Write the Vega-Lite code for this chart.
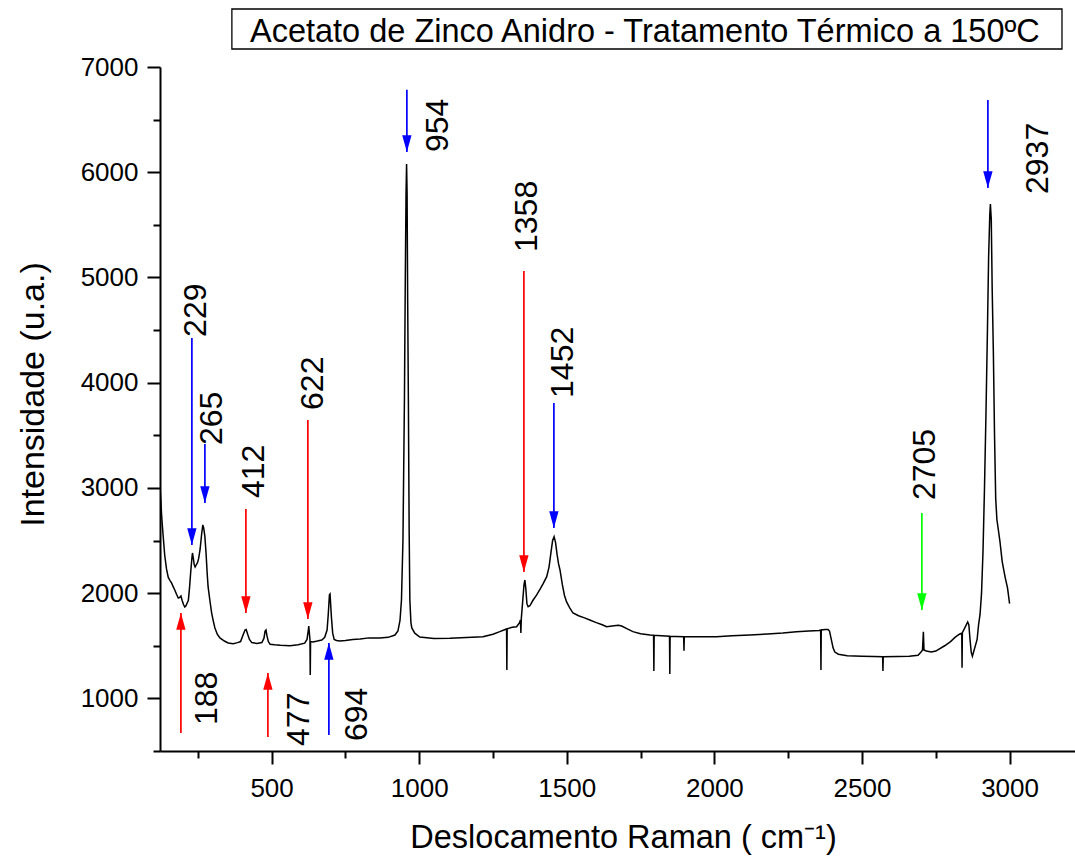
{
  "$schema": "https://vega.github.io/schema/vega-lite/v6.json",
  "width": 915,
  "height": 684,
  "autosize": {"type": "none"},
  "padding": {"left": 160, "top": 67, "right": 0, "bottom": 105},
  "background": "white",
  "config": {"view": {"stroke": null}},
  "resolve": {"axis": {"x": "independent", "y": "independent"}},
  "datasets": {
    "espectro": [
      {"desloc":122,"intens":3009},{"desloc":125,"intens":2880},{"desloc":127,"intens":2762},{"desloc":130,"intens":2640},{"desloc":133,"intens":2534},{"desloc":138,"intens":2360},{"desloc":144,"intens":2230},{"desloc":150,"intens":2150},{"desloc":156,"intens":2120},{"desloc":161,"intens":2097},{"desloc":167,"intens":2060},{"desloc":172,"intens":2030},{"desloc":178,"intens":1990},{"desloc":184,"intens":1954},{"desloc":189,"intens":1960},{"desloc":193,"intens":1973},{"desloc":197,"intens":1930},{"desloc":202,"intens":1890},{"desloc":206,"intens":1868},{"desloc":210,"intens":1880},{"desloc":214,"intens":1906},{"desloc":218,"intens":1930},{"desloc":222,"intens":2050},{"desloc":226,"intens":2200},{"desloc":230,"intens":2330},{"desloc":232,"intens":2382},{"desloc":235,"intens":2330},{"desloc":238,"intens":2270},{"desloc":241,"intens":2249},{"desloc":245,"intens":2270},{"desloc":249,"intens":2290},{"desloc":253,"intens":2330},{"desloc":258,"intens":2420},{"desloc":263,"intens":2560},{"desloc":267,"intens":2648},{"desloc":270,"intens":2620},{"desloc":274,"intens":2540},{"desloc":278,"intens":2380},{"desloc":282,"intens":2180},{"desloc":285,"intens":2059},{"desloc":291,"intens":1930},{"desloc":297,"intens":1811},{"desloc":303,"intens":1730},{"desloc":308,"intens":1669},{"desloc":316,"intens":1610},{"desloc":325,"intens":1574},{"desloc":340,"intens":1545},{"desloc":353,"intens":1526},{"desloc":370,"intens":1520},{"desloc":385,"intens":1530},{"desloc":395,"intens":1540},{"desloc":403,"intens":1600},{"desloc":410,"intens":1650},{"desloc":414,"intens":1655},{"desloc":419,"intens":1610},{"desloc":425,"intens":1560},{"desloc":433,"intens":1530},{"desloc":450,"intens":1522},{"desloc":467,"intens":1530},{"desloc":474,"intens":1570},{"desloc":478,"intens":1640},{"desloc":481,"intens":1650},{"desloc":484,"intens":1600},{"desloc":489,"intens":1540},{"desloc":495,"intens":1515},{"desloc":510,"intens":1510},{"desloc":530,"intens":1505},{"desloc":562,"intens":1500},{"desloc":590,"intens":1510},{"desloc":612,"intens":1525},{"desloc":620,"intens":1560},{"desloc":624,"intens":1640},{"desloc":626,"intens":1688},{"desloc":628,"intens":1620},{"desloc":630,"intens":1560},{"desloc":631,"intens":1222},{"desloc":632,"intens":1540},{"desloc":640,"intens":1536},{"desloc":655,"intens":1545},{"desloc":670,"intens":1555},{"desloc":680,"intens":1580},{"desloc":688,"intens":1650},{"desloc":692,"intens":1800},{"desloc":696,"intens":1985},{"desloc":698,"intens":1992},{"desloc":700,"intens":1900},{"desloc":703,"intens":1760},{"desloc":707,"intens":1620},{"desloc":712,"intens":1560},{"desloc":720,"intens":1550},{"desloc":731,"intens":1545},{"desloc":750,"intens":1550},{"desloc":775,"intens":1560},{"desloc":800,"intens":1564},{"desloc":830,"intens":1575},{"desloc":867,"intens":1574},{"desloc":895,"intens":1580},{"desloc":918,"intens":1602},{"desloc":928,"intens":1640},{"desloc":935,"intens":1740},{"desloc":940,"intens":1935},{"desloc":945,"intens":2500},{"desloc":950,"intens":3836},{"desloc":953,"intens":5000},{"desloc":955.5,"intens":5800},{"desloc":957.3,"intens":6078},{"desloc":959,"intens":5800},{"desloc":961,"intens":4786},{"desloc":963.4,"intens":3836},{"desloc":966,"intens":2600},{"desloc":968.4,"intens":1935},{"desloc":972,"intens":1720},{"desloc":975,"intens":1669},{"desloc":985,"intens":1620},{"desloc":1002,"intens":1583},{"desloc":1050,"intens":1570},{"desloc":1104,"intens":1571},{"desloc":1160,"intens":1578},{"desloc":1216,"intens":1586},{"desloc":1250,"intens":1610},{"desloc":1273,"intens":1634},{"desloc":1296,"intens":1660},{"desloc":1297,"intens":1270},{"desloc":1298,"intens":1662},{"desloc":1315,"intens":1675},{"desloc":1330,"intens":1681},{"desloc":1340,"intens":1720},{"desloc":1343,"intens":1745},{"desloc":1344.5,"intens":1621},{"desloc":1346,"intens":1760},{"desloc":1350,"intens":1900},{"desloc":1355,"intens":2080},{"desloc":1358,"intens":2125},{"desloc":1361,"intens":2050},{"desloc":1365,"intens":1900},{"desloc":1369,"intens":1871},{"desloc":1375,"intens":1880},{"desloc":1385,"intens":1930},{"desloc":1398,"intens":1983},{"desloc":1410,"intens":2040},{"desloc":1420,"intens":2090},{"desloc":1432,"intens":2157},{"desloc":1440,"intens":2250},{"desloc":1447,"intens":2400},{"desloc":1452,"intens":2500},{"desloc":1457,"intens":2537},{"desloc":1462,"intens":2480},{"desloc":1467,"intens":2370},{"desloc":1472,"intens":2280},{"desloc":1477,"intens":2220},{"desloc":1485,"intens":2080},{"desloc":1492,"intens":1980},{"desloc":1499,"intens":1919},{"desloc":1510,"intens":1860},{"desloc":1521,"intens":1811},{"desloc":1540,"intens":1785},{"desloc":1560,"intens":1765},{"desloc":1578,"intens":1745},{"desloc":1600,"intens":1720},{"desloc":1620,"intens":1700},{"desloc":1635,"intens":1681},{"desloc":1660,"intens":1690},{"desloc":1675,"intens":1695},{"desloc":1686,"intens":1688},{"desloc":1705,"intens":1660},{"desloc":1724,"intens":1634},{"desloc":1750,"intens":1615},{"desloc":1782,"intens":1602},{"desloc":1794,"intens":1600},{"desloc":1795,"intens":1260},{"desloc":1796,"intens":1600},{"desloc":1820,"intens":1595},{"desloc":1848,"intens":1590},{"desloc":1849,"intens":1232},{"desloc":1850,"intens":1590},{"desloc":1870,"intens":1588},{"desloc":1896,"intens":1586},{"desloc":1897,"intens":1453},{"desloc":1898,"intens":1586},{"desloc":1950,"intens":1586},{"desloc":2007,"intens":1586},{"desloc":2060,"intens":1595},{"desloc":2120,"intens":1602},{"desloc":2180,"intens":1612},{"desloc":2232,"intens":1621},{"desloc":2278,"intens":1634},{"desloc":2320,"intens":1640},{"desloc":2355,"intens":1645},{"desloc":2360,"intens":1650},{"desloc":2361,"intens":1270},{"desloc":2362,"intens":1650},{"desloc":2375,"intens":1655},{"desloc":2385,"intens":1655},{"desloc":2390,"intens":1640},{"desloc":2396,"intens":1560},{"desloc":2402,"intens":1480},{"desloc":2408,"intens":1440},{"desloc":2420,"intens":1420},{"desloc":2450,"intens":1405},{"desloc":2500,"intens":1400},{"desloc":2540,"intens":1398},{"desloc":2570,"intens":1395},{"desloc":2571,"intens":1260},{"desloc":2572,"intens":1395},{"desloc":2620,"intens":1398},{"desloc":2660,"intens":1400},{"desloc":2690,"intens":1410},{"desloc":2700,"intens":1440},{"desloc":2705,"intens":1460},{"desloc":2708,"intens":1634},{"desloc":2710,"intens":1460},{"desloc":2718,"intens":1450},{"desloc":2735,"intens":1440},{"desloc":2750,"intens":1450},{"desloc":2780,"intens":1500},{"desloc":2800,"intens":1540},{"desloc":2815,"intens":1580},{"desloc":2830,"intens":1610},{"desloc":2838,"intens":1620},{"desloc":2839,"intens":1290},{"desloc":2840,"intens":1625},{"desloc":2850,"intens":1680},{"desloc":2858,"intens":1726},{"desloc":2862,"intens":1700},{"desloc":2866,"intens":1560},{"desloc":2870,"intens":1440},{"desloc":2874,"intens":1400},{"desloc":2880,"intens":1460},{"desloc":2890,"intens":1560},{"desloc":2895,"intens":1700},{"desloc":2900,"intens":1800},{"desloc":2905,"intens":2000},{"desloc":2910,"intens":2400},{"desloc":2915,"intens":3000},{"desloc":2920,"intens":3700},{"desloc":2925,"intens":4500},{"desloc":2929,"intens":5200},{"desloc":2933,"intens":5600},{"desloc":2935,"intens":5698},{"desloc":2938,"intens":5550},{"desloc":2941,"intens":4900},{"desloc":2945,"intens":4300},{"desloc":2949,"intens":3500},{"desloc":2953,"intens":2900},{"desloc":2957,"intens":2700},{"desloc":2962,"intens":2600},{"desloc":2967,"intens":2500},{"desloc":2975,"intens":2300},{"desloc":2985,"intens":2150},{"desloc":2993,"intens":2050},{"desloc":3000,"intens":1900}
    ],
    "picos": [
      {"rotulo":"229","grupo":"azul","sentido":"baixo","x":230,"cauda":4425,"ponta":2458,"lx":243.6,"ly":4435},
      {"rotulo":"265","grupo":"azul","sentido":"baixo","x":274.1,"cauda":3417,"ponta":2857,"lx":297.7,"ly":3408},
      {"rotulo":"412","grupo":"vermelho","sentido":"baixo","x":413,"cauda":2800,"ponta":1811,"lx":440,"ly":2904},
      {"rotulo":"622","grupo":"vermelho","sentido":"baixo","x":622.9,"cauda":3645,"ponta":1754,"lx":639.9,"ly":3741},
      {"rotulo":"954","grupo":"azul","sentido":"baixo","x":958.3,"cauda":6783,"ponta":6192,"lx":1063.4,"ly":6192},
      {"rotulo":"1358","grupo":"vermelho","sentido":"baixo","x":1354.7,"cauda":5061,"ponta":2201,"lx":1364.8,"ly":5242},
      {"rotulo":"1452","grupo":"azul","sentido":"baixo","x":1456.3,"cauda":3807,"ponta":2619,"lx":1486.8,"ly":3855},
      {"rotulo":"2705","grupo":"verde","sentido":"baixo","x":2702.9,"cauda":2762,"ponta":1840,"lx":2713.1,"ly":2885},
      {"rotulo":"2937","grupo":"azul","sentido":"baixo","x":2926.5,"cauda":6686,"ponta":5850,"lx":3095.9,"ly":5793},
      {"rotulo":"188","grupo":"vermelho","sentido":"cima","x":192.8,"cauda":671,"ponta":1811,"lx":280.8,"ly":747},
      {"rotulo":"477","grupo":"vermelho","sentido":"cima","x":487.5,"cauda":633,"ponta":1241,"lx":592.5,"ly":548},
      {"rotulo":"694","grupo":"azul","sentido":"cima","x":694.1,"cauda":652,"ponta":1526,"lx":789,"ly":595}
    ],
    "titulo": [
      {"texto":"Acetato de Zinco Anidro - Tratamento Térmico a 150ºC","x1":365.5,"x2":3177.5,"y1":7171,"y2":7551,"xc":1764.6,"yb":7240}
    ]
  },
  "layer": [
    {
      "data": {"name": "espectro"},
      "mark": {"type": "line", "color": "black", "strokeWidth": 1.5, "clip": true},
      "encoding": {
        "x": {
          "field": "desloc", "type": "quantitative",
          "scale": {"domain": [122, 3221.6], "nice": false, "zero": false},
          "axis": {
            "orient": "bottom",
            "values": [500,1000,1500,2000,2500,3000],
            "format": "d",
            "tickSize": 13,
            "title": "Deslocamento Raman ( cm⁻¹)",
            "grid": false,
            "domainColor": "black", "domainWidth": 2,
            "tickColor": "black", "tickWidth": 2,
            "labelFont": "Liberation Sans", "labelFontSize": 26, "labelColor": "black",
            "labelPadding": 11, "labelFlush": false, "labelOverlap": false,
            "titleFont": "Liberation Sans", "titleFontSize": 32.5, "titleFontWeight": "normal", "titleColor": "black",
            "titlePadding": 20, "titleX": 463
          }
        },
        "y": {
          "field": "intens", "type": "quantitative",
          "scale": {"domain": [500, 7000], "nice": false, "zero": false},
          "axis": {
            "orient": "left",
            "values": [1000,2000,3000,4000,5000,6000,7000],
            "format": "d",
            "tickSize": 13,
            "title": "Intensidade (u.a.)",
            "grid": false,
            "domainColor": "black", "domainWidth": 2,
            "tickColor": "black", "tickWidth": 2,
            "labelFont": "Liberation Sans", "labelFontSize": 26, "labelColor": "black",
            "labelPadding": 9, "labelFlush": false, "labelOverlap": false,
            "titleFont": "Liberation Sans", "titleFontSize": 34, "titleFontWeight": "normal", "titleColor": "black",
            "titlePadding": 30, "titleY": 327
          }
        }
      }
    },
    {
      "data": {"name": "picos"},
      "mark": {"type": "rule", "strokeWidth": 1.7},
      "encoding": {
        "x": {"field": "x", "type": "quantitative",
          "axis": {"orient": "bottom", "values": [250,750,1250,1750,2250,2750], "tickSize": 7, "tickWidth": 2, "tickColor": "black", "labels": false, "domain": false, "grid": false, "title": null}},
        "y": {"field": "cauda", "type": "quantitative",
          "axis": {"orient": "left", "values": [500,1500,2500,3500,4500,5500,6500], "tickSize": 7, "tickWidth": 2, "tickColor": "black", "labels": false, "domain": false, "grid": false, "title": null}},
        "y2": {"field": "ponta"},
        "color": {"field": "grupo", "type": "nominal", "legend": null,
          "scale": {"domain": ["azul", "vermelho", "verde"], "range": ["#0000ff", "#ff0000", "#00ff00"]}}
      }
    },
    {
      "data": {"name": "picos"},
      "mark": {"type": "point", "filled": true, "opacity": 1, "size": 278, "strokeWidth": 0},
      "encoding": {
        "x": {"field": "x", "type": "quantitative", "axis": null},
        "y": {"field": "ponta", "type": "quantitative", "axis": null},
        "shape": {"field": "sentido", "type": "nominal", "legend": null,
          "scale": {"domain": ["baixo", "cima"], "range": ["M-0.56,-2L0.56,-2L0,0Z", "M-0.56,2L0.56,2L0,0Z"]}},
        "color": {"field": "grupo", "type": "nominal", "legend": null}
      }
    },
    {
      "data": {"name": "picos"},
      "mark": {"type": "text", "angle": 270, "align": "left", "baseline": "middle", "font": "Liberation Sans", "fontSize": 32, "color": "black"},
      "encoding": {
        "x": {"field": "lx", "type": "quantitative", "axis": null},
        "y": {"field": "ly", "type": "quantitative", "axis": null},
        "text": {"field": "rotulo"}
      }
    },
    {
      "data": {"name": "titulo"},
      "mark": {"type": "rect", "fill": "white", "stroke": "black", "strokeWidth": 1.3},
      "encoding": {
        "x": {"field": "x1", "type": "quantitative", "axis": null},
        "x2": {"field": "x2"},
        "y": {"field": "y1", "type": "quantitative", "axis": null},
        "y2": {"field": "y2"}
      }
    },
    {
      "data": {"name": "titulo"},
      "mark": {"type": "text", "align": "center", "baseline": "alphabetic", "font": "Liberation Sans", "fontSize": 32.5, "color": "black"},
      "encoding": {
        "x": {"field": "xc", "type": "quantitative", "axis": null},
        "y": {"field": "yb", "type": "quantitative", "axis": null},
        "text": {"field": "texto"}
      }
    }
  ]
}
